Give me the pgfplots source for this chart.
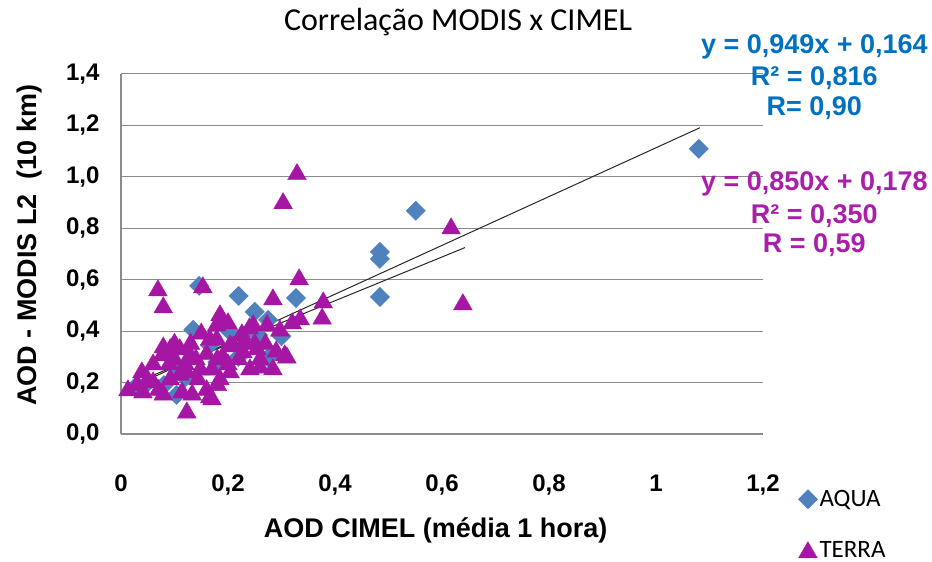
\documentclass[border=0pt]{standalone}
\usepackage{pgfplots}
\pgfplotsset{compat=1.18}
\usepackage{fontspec}
\setmainfont{Liberation Sans}
\newfontfamily\carlito{Carlito}
\definecolor{aqua}{RGB}{79,129,189}
\definecolor{terra}{RGB}{165,22,165}
\definecolor{eqblue}{RGB}{0,112,192}
\definecolor{eqmag}{RGB}{170,30,170}
\definecolor{gridgray}{RGB}{140,140,140}
\pgfplotstableread{
x y
1.080 1.109
0.551 0.868
0.484 0.708
0.484 0.681
0.484 0.533
0.327 0.529
0.220 0.537
0.146 0.576
0.135 0.405
0.250 0.475
0.275 0.444
0.204 0.397
0.275 0.296
0.256 0.385
0.166 0.346
0.104 0.152
0.080 0.190
0.050 0.200
0.030 0.190
0.120 0.220
0.180 0.280
0.220 0.300
0.100 0.260
0.300 0.380
}\aquatable
\pgfplotstableread{
x y
0.329 1.020
0.303 0.907
0.617 0.809
0.639 0.514
0.333 0.611
0.378 0.521
0.376 0.458
0.335 0.455
0.284 0.533
0.306 0.315
0.069 0.568
0.079 0.502
0.153 0.580
0.123 0.093
0.013 0.179
0.039 0.249
0.041 0.171
0.060 0.210
0.077 0.315
0.079 0.346
0.079 0.163
0.092 0.339
0.092 0.222
0.110 0.339
0.114 0.171
0.123 0.249
0.129 0.315
0.133 0.163
0.144 0.222
0.148 0.261
0.166 0.377
0.166 0.152
0.170 0.144
0.179 0.432
0.179 0.377
0.185 0.471
0.185 0.222
0.189 0.455
0.204 0.249
0.204 0.354
0.226 0.397
0.228 0.327
0.241 0.261
0.247 0.432
0.254 0.339
0.260 0.268
0.273 0.432
0.284 0.261
0.297 0.412
0.310 0.307
0.030 0.200
0.050 0.220
0.060 0.280
0.070 0.180
0.100 0.300
0.110 0.240
0.120 0.280
0.130 0.360
0.140 0.300
0.150 0.400
0.160 0.320
0.170 0.260
0.180 0.300
0.190 0.310
0.200 0.280
0.210 0.350
0.220 0.300
0.230 0.370
0.250 0.360
0.260 0.300
0.240 0.420
0.200 0.440
0.160 0.180
0.180 0.200
0.100 0.360
0.090 0.280
0.270 0.360
0.290 0.330
0.320 0.440
}\terratable
\begin{document}
\begin{tikzpicture}
\begin{axis}[
  at={(121pt,128pt)}, anchor=south west,
  scale only axis, width=642pt, height=360pt,
  xmin=0, xmax=1.2, ymin=0, ymax=1.4,
  xtick={0,0.2,0.4,0.6,0.8,1,1.2},
  ytick={0,0.2,0.4,0.6,0.8,1.0,1.2,1.4},
  /pgf/number format/use comma,
  /pgf/number format/assume math mode=true,
  yticklabel style={/pgf/number format/fixed, /pgf/number format/fixed zerofill, /pgf/number format/precision=1, xshift=-18pt},
  xticklabel style={yshift=-37pt},
  tick label style={font=\bfseries\fontsize{24}{28}\selectfont, text=black},
  major tick length=0pt,
  axis x line*=bottom, axis y line*=left,
  axis line style={gridgray, line width=1.2pt, -},
  ymajorgrids, grid style={gridgray, line width=1pt},
  clip=false,
  title={Correlação MODIS x CIMEL},
  title style={at={(axis description cs:0.525,1.128)}, anchor=center, font=\carlito\fontsize{32}{36}\selectfont},
  xlabel={AOD CIMEL (média 1 hora)},
  xlabel style={at={(axis description cs:0.49,-0.267)}, anchor=center, font=\bfseries\fontsize{27}{31}\selectfont},
  ylabel={AOD - MODIS L2\ \ (10 km)},
  ylabel style={at={(axis description cs:-0.143,0.525)}, anchor=center, rotate=0, font=\bfseries\fontsize{27}{31}\selectfont},
  legend style={draw=none, fill=none, at={(axis description cs:1.05,-0.145)}, anchor=north west,
    font=\carlito\fontsize{25}{29}\selectfont, row sep=29pt},
  legend cell align=left,
]
\addplot[only marks, mark=square*, mark size=6.8pt, mark options={rotate=45, fill=aqua, draw=aqua}] table {\aquatable};
\addlegendentry{AQUA}
\addplot[only marks, mark=triangle*, mark size=10.8pt, mark options={fill=terra, draw=terra, yshift=-2.6pt}] table {\terratable};
\addlegendentry{TERRA}
\addplot[black!85, line width=1pt, forget plot] coordinates {(0.017,0.180) (1.082,1.191)};
\addplot[black!85, line width=1pt, forget plot] coordinates {(0.017,0.192) (0.643,0.725)};
\node[text=eqblue, font=\bfseries\fontsize{27}{31}\selectfont, anchor=center] at (axis description cs:1.08,1.075) {y = 0,949x + 0,164};
\node[text=eqblue, font=\bfseries\fontsize{27}{31}\selectfont, anchor=center] at (axis description cs:1.08,0.989) {R² = 0,816};
\node[text=eqblue, font=\bfseries\fontsize{27}{31}\selectfont, anchor=center] at (axis description cs:1.08,0.906) {R= 0,90};
\node[text=eqmag, font=\bfseries\fontsize{27}{31}\selectfont, anchor=center] at (axis description cs:1.08,0.694) {y = 0,850x + 0,178};
\node[text=eqmag, font=\bfseries\fontsize{27}{31}\selectfont, anchor=center] at (axis description cs:1.08,0.606) {R² = 0,350};
\node[text=eqmag, font=\bfseries\fontsize{27}{31}\selectfont, anchor=center] at (axis description cs:1.08,0.525) {R = 0,59};
\end{axis}
\pgfresetboundingbox
\path[use as bounding box] (0pt,0pt) rectangle (932pt,562pt);
\end{tikzpicture}
\end{document}
